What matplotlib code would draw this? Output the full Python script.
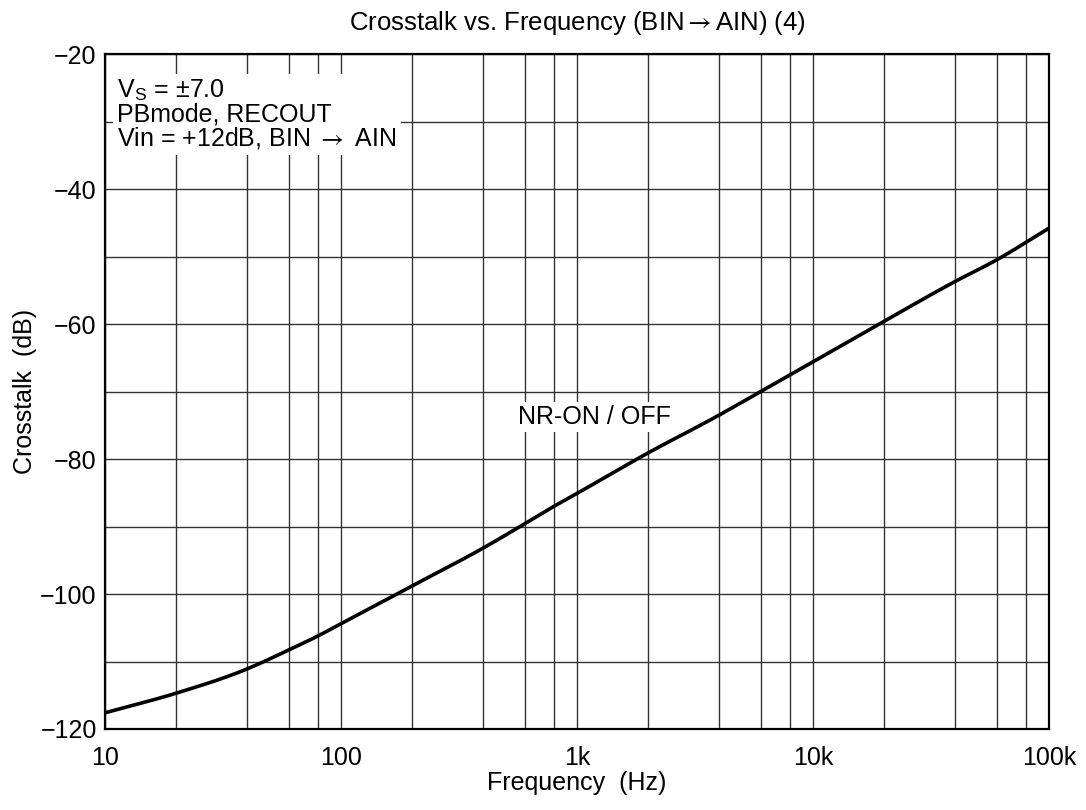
import numpy as np
import matplotlib
matplotlib.use('Agg')
import matplotlib.pyplot as plt
from matplotlib.ticker import FixedLocator, NullFormatter

plt.rcParams['font.family'] = ['Liberation Sans', 'DejaVu Sans']
plt.rcParams['mathtext.fontset'] = 'stix'

# curve (Hz, dB)
freq = [10, 20, 40, 60, 80, 100, 200, 400, 600, 800, 1000,
        2000, 4000, 6000, 8000, 10000, 20000, 40000, 60000, 100000]
crosstalk = [-117.6, -114.7, -111.1, -108.3, -106.2, -104.4, -98.8, -93.2, -89.6, -87.0, -85.1,
             -79.1, -73.5, -70.0, -67.5, -65.6, -59.6, -53.7, -50.5, -45.8]

xticks = [10, 100, 1000, 10000, 100000]
xticklabels = ['10', '100', '1k', '10k', '100k']
yticks = [-120, -100, -80, -60, -40, -20]
xgrid_minor = [m * d for d in [10, 100, 1000, 10000] for m in (2, 4, 6, 8)]
ygrid = list(range(-120, -10, 10))

FS = 18


def hermite(x, y, n=30):
    # cubic Hermite through the points, finite-difference slopes
    x = np.asarray(x, float)
    y = np.asarray(y, float)
    m = np.gradient(y, x)
    xs, ys = [], []
    for i in range(len(x) - 1):
        h = x[i + 1] - x[i]
        t = np.linspace(0, 1, n, endpoint=False)
        h00 = 2 * t**3 - 3 * t**2 + 1
        h10 = t**3 - 2 * t**2 + t
        h01 = -2 * t**3 + 3 * t**2
        h11 = t**3 - t**2
        xs.append(x[i] + t * h)
        ys.append(h00 * y[i] + h10 * h * m[i] + h01 * y[i + 1] + h11 * h * m[i + 1])
    xs.append([x[-1]])
    ys.append([y[-1]])
    return np.concatenate(xs), np.concatenate(ys)


fig = plt.figure(figsize=(10.86, 8.10), dpi=100)
ax = fig.add_axes([0.0967, 0.1, 0.8692, 0.8333])

ax.set_xscale('log')
ax.set_xlim(10, 100000)
ax.set_ylim(-120, -20)

# grid
for x in xticks + xgrid_minor:
    ax.axvline(x, color='#333333', lw=1.0, zorder=1)
for y in ygrid:
    ax.axhline(y, color='#333333', lw=1.0, zorder=1)

lx, ly = hermite(np.log10(freq), crosstalk)
ax.plot(10 ** lx, ly, color='black', lw=2.6, zorder=3)

ax.xaxis.set_major_locator(FixedLocator(xticks))
ax.set_xticklabels(xticklabels)
ax.xaxis.set_minor_locator(FixedLocator(xgrid_minor))
ax.xaxis.set_minor_formatter(NullFormatter())
ax.set_yticks(yticks)
ax.set_yticklabels([f'\u2212{abs(v)}' for v in yticks])
ax.tick_params(which='both', length=0, labelsize=FS)
ax.tick_params(axis='x', pad=12)
ax.tick_params(axis='y', pad=6)

for s in ax.spines.values():
    s.set_linewidth(1.6)
    s.set_zorder(4)

ax.set_xlabel('Frequency  (Hz)', fontsize=FS, labelpad=1)
ax.set_ylabel('Crosstalk  (dB)', fontsize=FS, labelpad=2)
ax.set_title('Crosstalk vs. Frequency (BIN$\\rightarrow$AIN) (4)', fontsize=18.5, pad=17)

ax.text(0.013, 0.965, 'V$_\\mathregular{S}$ = \u00b17.0\nPBmode, RECOUT\nVin = +12dB, BIN $\\rightarrow$ AIN',
        transform=ax.transAxes, fontsize=FS, va='top', ha='left', linespacing=0.95,
        bbox=dict(facecolor='white', edgecolor='none', pad=3), zorder=5)

ax.text(1190, -73.8, 'NR-ON / OFF', fontsize=FS, ha='center', va='center',
        bbox=dict(facecolor='white', edgecolor='none', pad=2), zorder=5)

fig.savefig('out.png', dpi=100)
